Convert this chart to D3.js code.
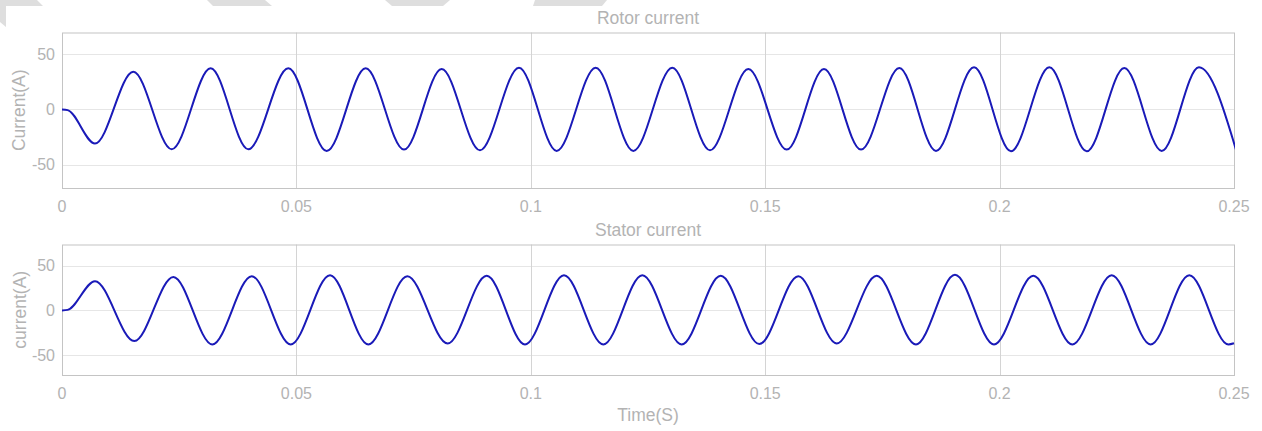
<!DOCTYPE html>
<html>
<head>
<meta charset="utf-8">
<script src="https://cdn.jsdelivr.net/npm/d3@7/dist/d3.min.js"></script>
<style>
  html, body { margin: 0; padding: 0; background: #fff; }
  svg { display: block; font-family: "Liberation Sans", Arial, Helvetica, sans-serif; }
  .tick-label { fill: #b3b3b3; font-size: 16px; }
  .axis-label { fill: #b3b3b3; font-size: 17.5px; }
</style>
</head>
<body>
<div id="chart"></div>
<script>
// Tick labels
const timeTicks = [0, 0.05, 0.1, 0.15, 0.2, 0.25];
const currentTicks = [-50, 0, 50];

// Rotor current: start, extrema (time in s, current in A)
// last trough lies just past the right edge and is clipped
const rotorTime = [0, 0.0012, 0.00704, 0.01521, 0.0234, 0.03171, 0.03974, 0.04828, 0.05646, 0.06478, 0.07295,
  0.08099, 0.08916, 0.09748, 0.10552, 0.11384, 0.12187, 0.13018, 0.13823, 0.1464, 0.15459,
  0.16254, 0.17044, 0.17861, 0.18643, 0.19454, 0.20243, 0.21061, 0.21858, 0.2266, 0.23458,
  0.24253, 0.2505];
const rotorCurrent = [0, -0.6, -30.9, 34.2, -36.1, 37.3, -36.1, 37.3, -37.6, 37.3, -36.4,
  36.6, -37, 37.9, -37.6, 37.9, -37.6, 37.9, -37, 36.6, -36.4,
  36.6, -36.4, 37.6, -37.6, 38.2, -37.9, 38.2, -37.9, 37.6, -37.6,
  38.2, -37.6];

// Stator current: start, extrema
const statorTime = [0, 0.0012, 0.00704, 0.01543, 0.02375, 0.03207, 0.04047, 0.04879, 0.05717, 0.06534, 0.07366,
  0.08227, 0.09059, 0.09876, 0.10708, 0.11547, 0.12379, 0.13219, 0.14051, 0.14874, 0.15706,
  0.16525, 0.17378, 0.18216, 0.19048, 0.1988, 0.20719, 0.21551, 0.22391, 0.23223, 0.24047,
  0.24879, 0.25];
const statorCurrent = [0, 0.6, 32.8, -34.4, 37.6, -38.1, 38.4, -38.1, 39.5, -38.1, 38.4,
  -37, 38.8, -38.1, 39.5, -38.1, 39.5, -38.1, 38.8, -37.7, 38.4,
  -37, 38.8, -38.1, 39.9, -38.1, 38.8, -38.1, 39.5, -38.1, 39.5,
  -38.1, -36.8];

const width = 1262, height = 431;
const svg = d3.select('#chart').append('svg')
  .attr('width', width)
  .attr('height', height);

// faint watermark fragments along the top edge
const watermark = [
  [[0, 0], [37, 0], [43, 6], [6, 6], [6, 27], [0, 22]],
  [[207, 0], [265, 0], [272, 6], [213, 6]],
  [[385, 0], [450, 0], [443, 6], [392, 6]],
  [[535, 0], [607, 0], [602, 6], [533, 6]]
];
svg.selectAll('.wm').data(watermark).enter().append('polygon')
  .attr('points', d => d.map(p => p.join(',')).join(' '))
  .attr('fill', '#dedede');

const x = d3.scaleLinear().domain([0, 0.25]).range([62, 1234]);

function drawPanel(cfg, idx) {
  const y = d3.scaleLinear().domain(cfg.domain).range([cfg.bottom, cfg.top]);
  const g = svg.append('g');

  // clip for the trace
  svg.append('clipPath').attr('id', 'clip' + idx)
    .append('rect')
    .attr('x', x.range()[0]).attr('y', cfg.top)
    .attr('width', x.range()[1] - x.range()[0] + 1).attr('height', cfg.bottom - cfg.top);

  // grid
  g.selectAll('.hgrid').data(currentTicks).enter().append('line')
    .attr('x1', x.range()[0]).attr('x2', x.range()[1])
    .attr('y1', d => Math.round(y(d)) + 0.5).attr('y2', d => Math.round(y(d)) + 0.5)
    .attr('stroke', '#e6e6e6').attr('stroke-width', 1);
  g.selectAll('.vgrid').data(timeTicks.slice(1, -1)).enter().append('line')
    .attr('x1', d => Math.round(x(d)) + 0.5).attr('x2', d => Math.round(x(d)) + 0.5)
    .attr('y1', cfg.top).attr('y2', cfg.bottom)
    .attr('stroke', '#d4d4d4').attr('stroke-width', 1);

  // box
  g.append('rect')
    .attr('x', x.range()[0] + 0.5).attr('y', cfg.top + 0.5)
    .attr('width', x.range()[1] - x.range()[0]).attr('height', cfg.bottom - cfg.top)
    .attr('fill', 'none').attr('stroke', '#c4c4c4').attr('stroke-width', 1);

  // tick labels
  g.selectAll('.xt').data(timeTicks).enter().append('text')
    .attr('class', 'tick-label')
    .attr('x', d => x(d)).attr('y', cfg.bottom + 18).attr('dy', '0.35em')
    .attr('text-anchor', 'middle')
    .text(d => String(d));
  g.selectAll('.yt').data(currentTicks).enter().append('text')
    .attr('class', 'tick-label')
    .attr('x', 55).attr('y', d => y(d)).attr('dy', '0.35em')
    .attr('text-anchor', 'end')
    .text(d => String(d));

  // title and y label
  g.append('text').attr('class', 'axis-label')
    .attr('x', (x.range()[0] + x.range()[1]) / 2).attr('y', cfg.titleY).attr('dy', '0.35em')
    .attr('text-anchor', 'middle').text(cfg.title);
  g.append('text').attr('class', 'axis-label')
    .attr('transform', `translate(${cfg.labelX},${(cfg.top + cfg.bottom) / 2}) rotate(-90)`)
    .attr('dy', '0.35em')
    .attr('text-anchor', 'middle').text(cfg.ylabel);

  // waveform
  const pts = cfg.t.map((t, i) => [t, cfg.v[i]]);
  const line = d3.line()
    .x(d => x(d[0]))
    .y(d => y(d[1]))
    .curve(d3.curveMonotoneX);
  g.append('path')
    .datum(pts)
    .attr('d', line)
    .attr('clip-path', `url(#clip${idx})`)
    .attr('fill', 'none')
    .attr('stroke', '#1a1ab8')
    .attr('stroke-width', 2);
}

drawPanel({
  top: 32.5, bottom: 188, domain: [-71.2, 69.8],
  t: rotorTime, v: rotorCurrent,
  title: 'Rotor current', titleY: 18, ylabel: 'Current(A)', labelX: 19
}, 0);
drawPanel({
  top: 244.5, bottom: 375, domain: [-72.4, 73.9],
  t: statorTime, v: statorCurrent,
  title: 'Stator current', titleY: 230, ylabel: 'current(A)', labelX: 20
}, 1);

svg.append('text').attr('class', 'axis-label')
  .attr('x', 648).attr('y', 415).attr('dy', '0.35em')
  .attr('text-anchor', 'middle').text('Time(S)');
</script>
</body>
</html>
